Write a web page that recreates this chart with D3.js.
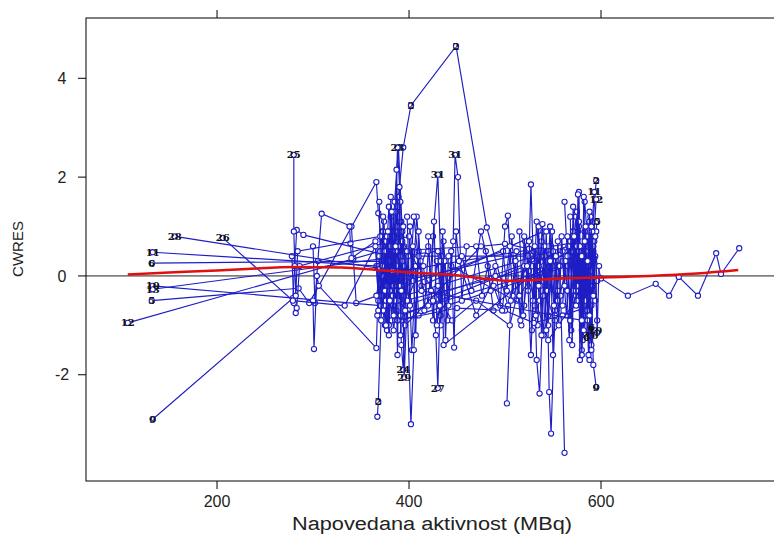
<!DOCTYPE html>
<html>
<head>
<meta charset="utf-8">
<script src="https://cdn.jsdelivr.net/npm/d3@7"></script>
<style>
  body { margin: 0; background: #fff; }
  text { font-family: "Liberation Sans", Arial, sans-serif; }
</style>
</head>
<body>
<script>
// subject ids, one per individual
var subjectIds = [1, 2, 3, 4, 5, 6, 7, 8, 9, 10, 11, 12, 13, 14, 15, 33, 34, 35, 36, 37,
  38, 27, 31, 24, 25, 28, 26, 23, 30, 18, 19, 20, 21, 22, 16, 17, 29,
  32, 39, 40, 41, 42, 43, 44, 45];

// population prediction (MBq), per subject, in record order
var predBySubject = [
  [370, 372, 374, 376, 380, 573, 575, 577, 580, 583, 586],
  [367, 368, 371, 374, 377, 381, 385, 389, 394, 402, 449, 481, 503, 528, 552, 571, 588, 595],
  [372, 375, 379, 383, 387, 391, 395, 530, 534, 538, 542, 546],
  [366, 369, 373, 377, 382, 388, 392, 396, 420, 425, 429, 433],
  [132, 285, 296, 366, 368, 371, 376, 381, 386, 575, 579, 583, 587, 592, 596],
  [132, 372, 376, 380, 384, 388, 392, 565, 569, 573, 577, 581, 585, 590],
  [395, 398, 401, 404, 407, 410, 413, 540, 544, 548, 552, 556],
  [300, 302, 305, 309, 340, 342, 345, 498, 502, 507, 512],
  [133, 279, 283, 290, 380, 384, 387, 391, 580, 584, 588, 592, 595],
  [133, 370, 374, 379, 383, 387, 392, 396, 560, 564, 568, 572, 576, 581, 586, 590, 594],
  [133, 368, 372, 377, 382, 387, 391, 396, 570, 574, 578, 583, 588, 593],
  [107, 370, 374, 378, 383, 387, 391, 395, 566, 571, 575, 580, 585, 590, 595],
  [133, 430, 433, 436, 440, 444, 520, 524, 528, 532, 536],
  [278, 280, 282, 283, 286, 400, 404, 408, 412, 416, 420],
  [338, 339, 340, 365, 368, 372, 375, 380, 470, 476, 482, 488],
  [300, 301, 304, 306, 366, 367, 369, 372, 376, 380, 385],
  [480, 485, 490, 495, 500, 503, 508, 512, 517, 521, 525],
  [502, 506, 511, 516, 520, 524, 527, 531, 535, 540, 545],
  [530, 533, 536, 540, 543, 546, 548, 552, 555, 558, 562],
  [562, 565, 568, 571, 574, 577, 580, 584, 588, 592, 596],
  [560, 563, 567, 570, 574, 577, 581, 585, 590, 594, 600, 628, 657, 671, 681, 701, 720, 725, 744],
  [425, 428, 430, 432, 434, 436, 540, 545, 550, 555],
  [415, 420, 425, 430, 433, 440, 446, 448, 451, 455, 460],
  [385, 388, 390, 392, 394, 396, 399, 403, 407, 410],
  [280, 280, 281, 282, 284, 370, 374, 378, 382, 386],
  [156, 370, 373, 377, 381, 385, 389, 393, 400, 405, 411],
  [206, 279, 333, 365, 369, 373, 377],
  [380, 383, 386, 388, 391, 394, 397, 560, 565, 570, 575],
  [372, 376, 380, 384, 388, 392, 396, 475, 500, 525, 550, 575],
  [368, 372, 376, 380, 384, 388, 450, 500, 530, 560, 590],
  [366, 375, 384, 393, 445, 470, 505, 520, 545, 570, 593],
  [525, 529, 533, 537, 541, 545, 549, 553, 557],
  [565, 568, 571, 574, 577, 580, 583, 586, 589, 592, 595],
  [575, 578, 580, 582, 584, 587, 590, 593, 596],
  [455, 465, 475, 488, 497, 505, 515, 535, 555],
  [430, 433, 437, 441, 444, 447, 449, 452, 470, 490],
  [391, 393, 395, 398, 402, 405, 410],
  [369, 371, 373, 375, 377, 379, 381, 383, 385, 387, 389, 391],
  [376, 378, 380, 382, 384, 386, 388, 390, 392, 394, 396, 398],
  [568, 570, 572, 574, 576, 578, 580, 582, 584, 586, 588, 590, 592],
  [532, 535, 538, 541, 544, 547, 550, 553, 556, 559, 562],
  [515, 519, 523, 527, 531, 535, 539, 543, 547, 551],
  [420, 423, 426, 429, 432, 435, 438, 441],
  [398, 401, 404, 407, 410, 413, 580, 583, 587, 591, 594],
  [586, 588, 590, 592, 594, 596, 598]
];

// conditional weighted residuals, same layout
var cwresBySubject = [
  [0.5, -0.4, 1.1, 0.1, -0.9, 0.6, -0.5, 1.0, -0.2, 0.4, -0.8],
  [-2.85, -2.55, -0.8, 0.7, -0.3, 1.2, 0.2, 1.6, 2.6, 3.45, 4.65, 0.98, -0.6, 0.4, -0.9, 0.9, 0.1, 1.93],
  [0.9, -0.2, 1.4, 0.3, -0.7, 0.8, -0.1, 0.5, -1.0, 0.7, -0.4, 0.2],
  [0.2, -0.7, 0.4, -1.1, 0.9, -0.3, 1.1, -0.6, 0.6, -0.9, 0.3, -0.2],
  [-0.5, -0.25, -0.55, 1.9, 1.27, 0.8, -0.2, 0.5, -0.8, 0.3, -0.6, 0.9, -0.3, 0.5, 1.1],
  [0.26, 0.3, -0.5, 0.9, -0.1, 0.6, -0.9, 0.2, -1.1, 0.8, -0.4, 0.5, -1.25, -1.05],
  [0.6, -0.4, 1.0, 0.1, -0.8, 0.5, -0.2, 0.9, -0.3, 0.6, -0.7, 0.2],
  [0.6, -0.55, 0.3, 1.26, 1.0, 0.35, -0.55, 0.5, -0.3, 0.8, -0.5],
  [-2.9, -0.45, 0.93, 0.83, 0.4, -0.6, 1.3, 0.1, 0.7, -0.5, 1.1, -1.8, -2.25],
  [-0.2, -0.6, 0.2, -1.0, 0.5, -0.3, 0.8, -0.5, 0.3, -0.8, 0.7, -0.2, 0.9, -1.3, -0.4, -1.2, -1.1],
  [0.48, 0.2, -0.4, 0.6, -0.2, 1.0, -0.8, 0.4, 0.4, 1.2, -0.5, 1.5, 0.2, 1.7],
  [-0.95, 0.5, -0.3, 0.9, -0.6, 0.2, 1.1, -0.4, 0.6, -0.3, 1.3, -0.7, 0.8, 0.1, 1.55],
  [-0.27, 0.5, -0.8, 0.7, -0.4, 0.2, -0.6, 0.4, -1.1, 0.3, -0.5],
  [0.4, -0.55, -0.75, -0.65, 0.2, 0.8, -0.1, 1.2, 0.3, -0.7, 0.5],
  [1.0, 0.66, 0.36, 0.7, -0.5, 0.3, -1.0, 0.5, 0.6, -0.4, 0.2, -0.7],
  [-0.5, -1.48, 0.0, -0.2, -1.46, -0.8, 0.4, -0.3, 0.6, -0.1, 0.9],
  [0.5, -0.3, 0.2, -0.6, 1.0, 1.22, -0.4, 0.5, -1.0, 0.7, 0.1],
  [-2.58, -0.5, 0.3, -0.9, 0.8, -0.3, 1.85, -0.6, 0.4, -1.2, 0.6],
  [0.3, -1.7, -2.38, -0.4, 0.9, -2.35, -3.19, -0.8, 0.7, -0.4, -3.58],
  [1.5, 0.4, -0.9, 0.9, -0.3, 1.7, -1.5, 0.5, -1.7, 0.3, -0.9],
  [-0.6, 0.3, -1.3, 0.5, -0.4, 1.1, -0.8, 0.2, -0.5, 0.4, -0.05, -0.4, -0.16, -0.4, -0.02, -0.4, 0.46, 0.04, 0.56],
  [-0.5, -1.2, -2.27, -0.8, 0.4, -1.4, 0.2, -0.8, 0.5, -0.3],
  [0.2, -0.6, 0.8, 2.05, 0.3, -0.9, 0.7, 2.45, 2.0, -0.5, 0.6],
  [0.6, -0.5, 1.0, -1.4, -1.9, -0.7, 0.4, -1.5, 0.2, -0.8],
  [2.45, 0.9, 0.2, -0.4, 0.5, 0.8, -0.6, 0.3, -0.9, 0.5],
  [0.8, 0.15, -0.7, 0.8, -0.3, 1.5, 2.6, 0.9, -0.5, 1.2, 0.1],
  [0.77, -0.5, -0.6, 0.6, -0.4, 0.9, -0.2],
  [0.3, -0.4, 1.3, 2.6, 1.5, 0.2, -0.6, 0.5, -0.3, 0.8, -0.5],
  [0.0, 0.7, -0.3, 1.3, -0.5, 0.4, -1.0, 0.6, 0.65, 0.55, 0.3, 0.6],
  [-0.7, 0.2, -0.5, 0.6, -0.2, -0.9, -0.65, -0.7, -0.95, -0.8, -0.6],
  [-0.4, 0.5, -1.1, 0.7, -0.9, -0.5, -1.0, 0.2, -1.3, -0.6, 0.35],
  [0.7, -0.5, 1.1, -0.2, 0.4, -1.0, 0.9, -0.6, 0.2],
  [0.8, -0.9, 1.4, -0.3, 0.5, -1.6, 0.9, -0.7, 1.2, -0.2, 0.9],
  [-0.2, 0.6, -1.1, 1.6, -0.5, 0.3, -1.4, 0.7, -0.1],
  [0.4, -0.3, 0.9, -0.2, -0.7, 0.6, -0.4, 0.2, -0.5],
  [-0.2, -1.0, 0.3, -0.6, 0.5, -1.45, 0.9, 0.3, -0.8, 0.0],
  [-1.2, 0.3, -2.05, -0.5, -3.0, -1.5, 0.4],
  [1.5, -0.9, 1.2, -0.3, 0.8, -1.2, 1.6, 0.1, -0.5, 2.15, 0.6, -0.2],
  [-1.0, 0.9, -0.5, 1.3, -0.8, 0.6, -1.6, 1.8, -0.3, 1.0, -0.7, 0.5],
  [1.2, -1.4, 0.8, -0.6, 1.65, -1.7, 0.4, -1.1, 1.0, -0.9, 1.3, -1.5, 0.6],
  [-0.8, 1.0, -1.2, 0.6, -0.3, 1.0, -1.6, 0.4, -1.0, 0.8, -0.2],
  [0.9, -0.8, 0.2, -1.6, 0.6, -0.2, 1.05, -1.1, 0.3, -0.6],
  [0.8, -0.3, 1.1, -1.0, -0.6, 0.9, -1.3, 0.4],
  [1.2, -0.6, 0.6, -1.2, 0.9, -0.3, -0.9, 0.7, -1.6, 0.9, -0.5],
  [0.3, -0.8, 1.0, -0.4, 0.8, -1.15, 0.2]
];

// which points carry an id label: [subject index, point index]
var labelledPoints = [
  [1, 1], [1, 9], [1, 10], [1, 17], [4, 0], [4, 14], [5, 0], [5, 12], [5, 13],
  [8, 0], [8, 12], [9, 0], [9, 15], [9, 16], [10, 0], [10, 13], [11, 0], [11, 14],
  [12, 0], [21, 2], [22, 3], [22, 7], [23, 4], [24, 0], [25, 0], [26, 0], [27, 3],
  [36, 2]
];

// smooth through the residuals
var smoothPred = [107, 150, 200, 231, 282, 330, 367, 410, 452, 480, 503, 530, 560, 601, 650, 700, 743];
var smoothCwres = [0.03, 0.07, 0.11, 0.14, 0.18, 0.17, 0.12, 0.06, 0.01, -0.06, -0.1, -0.08, -0.05, -0.03, 0.0, 0.05, 0.12];

var xTicks = [200, 400, 600];
var yTicks = [-2, 0, 2, 4];

var W = 774, H = 534;
var padL = 86, padR = 776, padT = 18, padB = 481;

var x = d3.scaleLinear().domain([63.5, 782.3]).range([padL, padR]);
var y = d3.scaleLinear().domain([-4.15, 5.22]).range([padB, padT]);

var svg = d3.select('body').append('svg')
  .attr('width', W)
  .attr('height', H);

svg.append('clipPath').attr('id', 'clip')
  .append('rect')
    .attr('x', padL).attr('y', padT)
    .attr('width', padR - padL).attr('height', padB - padT);

// reference line at zero
svg.append('line')
  .attr('x1', padL).attr('x2', padR)
  .attr('y1', y(0)).attr('y2', y(0))
  .attr('stroke', '#222')
  .attr('stroke-width', 1);

var line = d3.line()
  .x(function(d) { return x(d[0]); })
  .y(function(d) { return y(d[1]); });

var blue = '#1e1ec4';
var series = [];
for (var i = 0; i < subjectIds.length; i++) {
  var pts = [];
  for (var j = 0; j < predBySubject[i].length; j++) {
    pts.push([predBySubject[i][j], cwresBySubject[i][j]]);
  }
  series.push(pts);
}

var marks = svg.append('g').attr('clip-path', 'url(#clip)');

series.forEach(function(pts) {
  var g = marks.append('g');
  g.append('path')
    .attr('d', line(pts))
    .attr('fill', 'none')
    .attr('stroke', blue)
    .attr('stroke-width', 1.15);
  g.selectAll('circle')
    .data(pts)
    .enter().append('circle')
      .attr('cx', function(d) { return x(d[0]); })
      .attr('cy', function(d) { return y(d[1]); })
      .attr('r', 2.6)
      .attr('fill', '#fff')
      .attr('stroke', blue)
      .attr('stroke-width', 1.1);
});

var smooth = smoothPred.map(function(v, k) { return [v, smoothCwres[k]]; });
marks.append('path')
  .attr('d', d3.line().curve(d3.curveMonotoneX)
    .x(function(d) { return x(d[0]); })
    .y(function(d) { return y(d[1]); })(smooth))
  .attr('fill', 'none')
  .attr('stroke', '#e01010')
  .attr('stroke-width', 2.6);

marks.selectAll('.id-label')
  .data(labelledPoints)
  .enter().append('text')
    .attr('class', 'id-label')
    .attr('x', function(d) { return x(predBySubject[d[0]][d[1]]); })
    .attr('y', function(d) { return y(cwresBySubject[d[0]][d[1]]); })
    .attr('text-anchor', 'middle')
    .attr('dy', '0.35em')
    .style('font-family', '"DejaVu Serif", serif')
    .style('font-weight', 'bold')
    .style('font-size', '10px')
    .attr('fill', '#111')
    .text(function(d) { return subjectIds[d[0]]; });

// frame
svg.append('rect')
  .attr('x', padL).attr('y', padT)
  .attr('width', padR - padL).attr('height', padB - padT)
  .attr('fill', 'none')
  .attr('stroke', '#000')
  .attr('stroke-width', 1);

// axes
var tickLen = 8;
svg.selectAll('.xtick-b')
  .data(xTicks)
  .enter().append('line')
    .attr('x1', function(d) { return x(d); }).attr('x2', function(d) { return x(d); })
    .attr('y1', padB).attr('y2', padB + tickLen)
    .attr('stroke', '#000');
svg.selectAll('.xtick-t')
  .data(xTicks)
  .enter().append('line')
    .attr('x1', function(d) { return x(d); }).attr('x2', function(d) { return x(d); })
    .attr('y1', padT).attr('y2', padT - tickLen)
    .attr('stroke', '#000');
svg.selectAll('.xlab')
  .data(xTicks)
  .enter().append('text')
    .attr('x', function(d) { return x(d); })
    .attr('y', 507)
    .attr('text-anchor', 'middle')
    .style('font-size', '16px')
    .attr('fill', '#222')
    .text(function(d) { return d; });

svg.selectAll('.ytick')
  .data(yTicks)
  .enter().append('line')
    .attr('x1', padL - tickLen).attr('x2', padL)
    .attr('y1', function(d) { return y(d); }).attr('y2', function(d) { return y(d); })
    .attr('stroke', '#000');
svg.selectAll('.ylab')
  .data(yTicks)
  .enter().append('text')
    .attr('x', 62)
    .attr('y', function(d) { return y(d); })
    .attr('dy', '0.35em')
    .attr('text-anchor', 'middle')
    .style('font-size', '16px')
    .attr('fill', '#222')
    .text(function(d) { return d; });

svg.append('text')
  .attr('x', 432)
  .attr('y', 530)
  .attr('text-anchor', 'middle')
  .attr('textLength', 280)
  .attr('lengthAdjust', 'spacingAndGlyphs')
  .style('font-size', '18px')
  .attr('fill', '#222')
  .text('Napovedana aktivnost (MBq)');

svg.append('text')
  .attr('transform', 'translate(23,249) rotate(-90)')
  .attr('text-anchor', 'middle')
  .style('font-size', '15px')
  .attr('fill', '#222')
  .text('CWRES');
</script>
</body>
</html>
